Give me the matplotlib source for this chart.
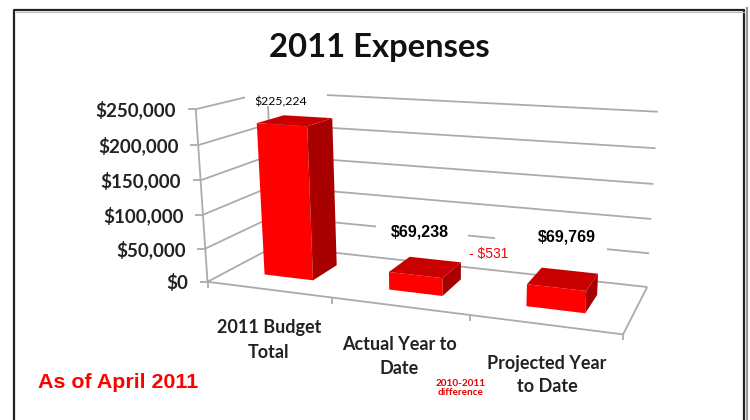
import numpy as np
import matplotlib
matplotlib.use("Agg")
import matplotlib.pyplot as plt

categories = ["2011 Budget\nTotal", "Actual Year to\nDate", "Projected Year\nto Date"]
bar_heights = [225224, 26000, 31000]
bar_labels = ["$225,224", "$69,238", "$69,769"]
tick_values = [0, 50000, 100000, 150000, 200000, 250000]

GRAY = "#ababab"
plt.rcParams["font.family"] = ["Lato", "DejaVu Sans"]

# pixel canvas, y pointing down like the reference
fig = plt.figure(figsize=(7.5, 4.2), dpi=100)
ax = fig.add_axes([0, 0, 1, 1])
ax.set_xlim(0, 750)
ax.set_ylim(420, 0)
ax.axis("off")

# calibrate a 3d -> pixel projection on the chart box: (category, depth, value)
anchors = [
    ((0, 0, 0), (207, 282)), ((1, 0, 0), (331, 298)), ((2, 0, 0), (471, 315)),
    ((3, 0, 0), (623, 334)), ((3, 1, 0), (647, 287)), ((0, 1, 0), (276, 246)),
    ((0, 0, 1), (197, 109)), ((0, 1, 1), (266, 92)), ((3, 1, 1), (658, 112)),
]
rows, rhs = [], []
for (a, b, c), (px, py) in anchors:
    rows.append([a, b, c, 1, 0, 0, 0, 0, -px * a, -px * b, -px * c])
    rows.append([0, 0, 0, 0, a, b, c, 1, -py * a, -py * b, -py * c])
    rhs += [px, py]
P = np.linalg.lstsq(np.array(rows, float), np.array(rhs, float), rcond=None)[0]
P = np.append(P, 1).reshape(3, 4)


def project(u, d, value):
    xh, yh, w = P @ np.array([u, d, value / tick_values[-1], 1.0])
    return xh / w, yh / w


def seg(p, q):
    ax.plot([p[0], q[0]], [p[1], q[1]], color=GRAY, lw=1.3, solid_capstyle="butt", zorder=1)


# walls and gridlines
for v in tick_values:
    seg(project(0, 0, v), project(0, 1, v))
    seg(project(0, 1, v), project(3, 1, v))
    x, y = project(0, 0, v)
    seg((x - 8, y), (x, y))
    ax.text(x - 19.5, y + 1, f"${v:,}", ha="right", va="center", fontsize=13.5,
            fontweight="bold", color="#222222")
seg(project(0, 0, 0), project(0, 0, tick_values[-1]))
seg(project(0, 1, 0), project(0, 1, tick_values[-1]))
seg(project(0, 0, 0), project(3, 0, 0))
seg(project(3, 0, 0), project(3, 1, 0))
for i in range(len(categories) + 1):
    x, y = project(i, 0, 0)
    seg((x, y), (x, y + 6))

# white boxes that sit behind the data labels and hide the gridlines
for x0, y0, x1, y1 in [(245, 86, 327, 106), (376, 222, 468, 244), (495, 225, 607, 252)]:
    ax.fill([x0, x1, x1, x0], [y0, y0, y1, y1], color="white", lw=0, zorder=2)

# bars
D0, D1 = 0.3, 0.7
U0, U1 = 0.30, 0.70
for i, h in enumerate(bar_heights):
    a, b = i + U0, i + U1
    faces = [
        ([(a, D0, 0), (b, D0, 0), (b, D0, h), (a, D0, h)], "#ff0000"),
        ([(b, D0, 0), (b, D1, 0), (b, D1, h), (b, D0, h)], "#a80000"),
        ([(a, D0, h), (b, D0, h), (b, D1, h), (a, D1, h)], "#c80000"),
    ]
    for pts, col in faces:
        xy = [project(*p) for p in pts]
        ax.fill([q[0] for q in xy], [q[1] for q in xy], color=col, lw=0, zorder=3)

# category labels
cat_pos = [(269, 340), (399, 356), (547, 375)]
for name, (x, y) in zip(categories, cat_pos):
    ax.text(x, y, name, ha="center", va="center", fontsize=13, fontweight="bold",
            color="#222222", linespacing=1.5, zorder=4)

# data labels
ax.text(280.5, 102, bar_labels[0], ha="center", va="center", fontsize=8.8, color="black", zorder=4)
ax.text(419.5, 232, bar_labels[1], ha="center", va="center", fontsize=11.5, fontweight="bold",
        family="Liberation Sans", zorder=4)
ax.text(567, 237, bar_labels[2], ha="center", va="center", fontsize=11.5, fontweight="bold",
        family="Liberation Sans", zorder=4)
ax.text(489, 254, "- $531", ha="center", va="center", fontsize=10, color="#ff0000",
        family="Liberation Sans", zorder=4)

ax.text(379, 48, "2011 Expenses", ha="center", va="center", fontsize=23.6, fontweight="bold", color="#111111")
ax.text(118, 382, "As of April 2011", ha="center", va="center", fontsize=15.4, fontweight="bold",
        color="#ff0000", family="Liberation Sans")
ax.text(461, 388, "2010-2011\ndifference", ha="center", va="center", fontsize=7.2, fontweight="bold",
        color="#e00000", linespacing=1.0)

# picture frame
ax.plot([14, 14, 744, 744], [420, 10, 10, 420], color="#222222", lw=1.6, zorder=5)
ax.plot([747, 747], [8, 420], color="#999999", lw=1.5, zorder=5)
ax.plot([16, 744], [12, 12], color="#bbbbbb", lw=0.8, zorder=5)

fig.savefig("out.png", dpi=100)
